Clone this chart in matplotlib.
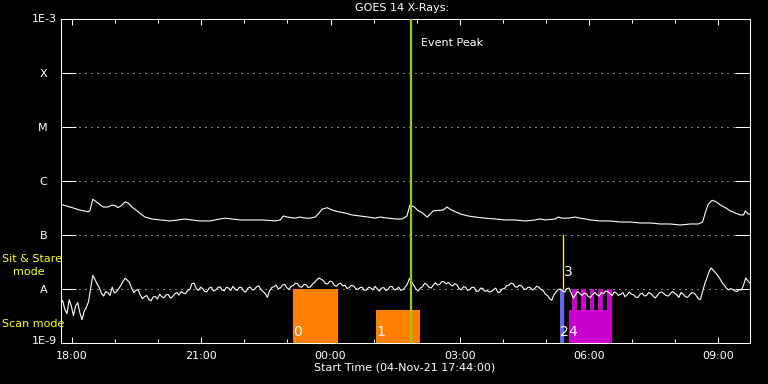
import numpy as np
import matplotlib.pyplot as plt
import matplotlib.dates as mdates
from matplotlib.ticker import NullLocator
from datetime import datetime

start = datetime(2021, 11, 4, 17, 44)

# long channel, hours after start / flux in 1e-7 W m^-2
hi_hours = [0.0, 0.22, 0.45, 0.64, 0.68, 0.75, 0.87, 0.99, 1.10, 1.20,
            1.29, 1.33, 1.40, 1.50, 1.57, 1.66, 1.80, 1.96, 2.12, 2.31,
            2.54, 2.73, 2.89, 3.05, 3.24, 3.47, 3.70, 3.82, 3.98, 4.17,
            4.40, 4.68, 4.98, 5.10, 5.17, 5.26, 5.44, 5.56, 5.68, 5.79,
            5.91, 5.98, 6.07, 6.19, 6.30, 6.44, 6.60, 6.77, 6.95, 7.14,
            7.30, 7.42, 7.60, 7.77, 7.93, 8.04, 8.11, 8.21, 8.30, 8.39,
            8.51, 8.65, 8.88, 8.97, 9.04, 9.16, 9.28, 9.46, 9.62, 9.86,
            10.09, 10.32, 10.55, 10.78, 11.02, 11.13, 11.25, 11.48, 11.55, 11.64,
            11.78, 11.95, 12.06, 12.18, 12.29, 12.53, 12.76, 12.99, 13.22, 13.45,
            13.69, 13.92, 14.15, 14.38, 14.62, 14.80, 14.90, 14.96, 15.03, 15.12,
            15.22, 15.31, 15.43, 15.54, 15.66, 15.78, 15.85, 15.89, 15.96, 16.0]
hi_flux = [3.7, 3.3, 2.9, 2.7, 2.8, 4.6, 3.9, 3.3, 3.3, 3.6,
           3.45, 3.2, 3.45, 4.1, 3.9, 3.3, 2.7, 2.15, 1.98, 1.9,
           1.82, 1.9, 1.98, 1.9, 1.82, 1.82, 1.98, 2.05, 1.98, 1.9,
           1.9, 1.9, 1.82, 1.9, 2.25, 2.15, 2.05, 2.15, 2.05, 2.05,
           2.15, 2.45, 3.0, 3.2, 2.9, 2.7, 2.55, 2.35, 2.25, 2.15,
           2.05, 2.15, 2.05, 1.98, 1.98, 2.25, 3.6, 3.3, 2.8, 2.6,
           2.15, 2.8, 2.9, 3.3, 3.0, 2.7, 2.45, 2.25, 2.15, 2.05,
           1.98, 1.9, 1.9, 1.82, 1.9, 1.98, 1.9, 1.98, 2.15, 2.05,
           2.05, 2.15, 2.05, 1.98, 1.9, 1.82, 1.82, 1.74, 1.74, 1.67,
           1.67, 1.6, 1.6, 1.53, 1.6, 1.6, 1.74, 2.55, 3.7, 4.4,
           4.1, 3.6, 3.2, 2.8, 2.55, 2.35, 2.35, 2.8, 2.45, 2.45]

# short channel, one sample every 3 min / flux in 1e-9 W m^-2 (one row per hour)
lo_flux = [5.4, 6.1, 4.2, 3.5, 6.3, 4.9, 3.2, 4.8, 5.6, 3.6, 2.7, 3.9, 4.6, 5.8, 10.5, 17.8, 15.0, 12.4, 10.6, 8.4,
           7.4, 8.9, 8.6, 7.6, 10.8, 8.4, 9.0, 10.2, 11.6, 13.8, 15.8, 14.6, 13.2, 10.4, 8.6, 9.4, 9.8, 7.8, 6.6, 7.2,
           7.6, 6.4, 6.0, 7.1, 7.3, 6.5, 8.0, 7.2, 6.9, 7.8, 7.9, 6.8, 7.2, 8.1, 8.6, 7.7, 9.0, 8.4, 8.2, 9.4,
           9.8, 12.6, 12.8, 10.2, 9.4, 10.8, 10.2, 8.9, 9.0, 10.4, 10.8, 9.2, 9.6, 10.6, 11.0, 9.6, 9.2, 10.8, 10.4, 9.4,
           11.2, 10.0, 9.4, 10.8, 10.6, 9.2, 8.8, 10.4, 10.9, 9.6, 9.8, 11.0, 11.4, 9.8, 9.0, 8.2, 7.0, 9.2, 10.6, 11.0,
           11.8, 10.2, 10.4, 11.8, 12.2, 10.6, 9.8, 11.2, 11.6, 12.8, 12.6, 11.0, 10.8, 12.2, 12.0, 10.6, 11.0, 12.4, 13.4, 14.8,
           16.0, 15.2, 14.2, 12.6, 12.4, 14.0, 13.6, 11.8, 11.2, 12.4, 12.8, 11.4, 11.8, 10.2, 10.6, 11.6, 11.4, 10.2, 9.8, 10.6,
           10.8, 9.4, 9.6, 10.8, 10.4, 9.6, 11.2, 10.0, 9.2, 10.4, 10.6, 9.4, 9.8, 11.2, 11.0, 9.6, 10.0, 10.8, 9.4, 9.8,
           10.8, 12.4, 15.8, 13.6, 11.6, 10.0, 9.2, 10.4, 11.0, 12.8, 12.2, 10.8, 10.4, 11.8, 13.0, 11.8, 12.2, 13.8, 13.6, 12.4,
           13.2, 12.0, 11.4, 12.6, 12.0, 10.2, 9.6, 11.0, 10.8, 9.4, 9.8, 10.8, 10.6, 9.0, 9.2, 10.4, 10.2, 9.0, 9.4, 8.8,
           9.0, 9.8, 10.4, 8.6, 8.8, 10.0, 10.2, 11.4, 11.8, 12.8, 12.6, 11.0, 10.8, 11.8, 11.4, 10.0, 9.8, 10.8, 10.6, 9.6,
           10.2, 11.2, 10.8, 9.8, 9.4, 8.0, 7.6, 6.6, 6.2, 7.8, 8.8, 9.8, 10.0, 9.2, 8.8, 10.2, 10.4, 8.4, 6.8, 7.8,
           9.0, 8.2, 7.6, 8.4, 8.2, 7.2, 7.0, 8.0, 8.6, 7.8, 7.4, 8.6, 8.2, 9.2, 9.0, 8.2, 7.6, 8.8, 8.4, 7.6,
           8.0, 8.6, 7.2, 7.8, 8.8, 8.0, 7.8, 7.0, 7.0, 8.0, 8.4, 7.4, 7.6, 8.6, 8.2, 7.4, 6.8, 7.6, 8.6, 8.8,
           8.2, 7.6, 7.4, 8.2, 9.0, 8.4, 7.8, 7.0, 8.6, 8.0, 7.2, 7.0, 7.8, 8.6, 8.4, 7.6, 6.6, 6.4, 9.0, 12.5,
           16.0, 21.0, 24.5, 22.0, 20.0, 17.8, 15.6, 13.2, 11.8, 10.4, 9.6, 10.2, 9.8, 9.2, 9.0, 9.8, 9.6, 11.8, 16.0, 14.2,
           12.9]
lo_hours = np.arange(len(lo_flux)) * 0.05

# observations: start / end (hours after start), top flux, colour, label
obs_start = [5.39, 7.325, 11.60, 11.79]
obs_end = [6.44, 8.35, 11.69, 12.80]
obs_top = [1e-8, 4.1e-9, 1e-8, 4.1e-9]
obs_color = ['#FF8000', '#FF8000', '#6464F0', '#CC00CC']
obs_label = ['0', '1', '2', '4']

# raster steps on top of the last observation
step_start = [11.87, 12.08, 12.28, 12.47, 12.68]
step_end = [11.985, 12.19, 12.39, 12.59, 12.80]
step_top = 1e-8

peak_hour = 8.14
mark_hour = 11.67
mark_top = 1e-7

levels = [1e-8, 1e-7, 1e-6, 1e-5, 1e-4]
level_names = ['A', 'B', 'C', 'M', 'X']

W, H = 768, 384
t0 = mdates.date2num(start)


def tnum(h):
    return t0 + np.asarray(h) / 24.0


def put(x, y, s, **kw):
    fig.text(x / W, 1 - y / H, s, **kw)


fig = plt.figure(figsize=(7.68, 3.84), dpi=100, facecolor='black')
ax = fig.add_axes([60.5 / W, 1 - 343 / H, (750 - 60.5) / W, (343 - 19) / H])
ax.set_facecolor('black')
ax.set_yscale('log')
ax.set_ylim(1e-9, 1e-3)
ax.set_xlim(tnum(0), tnum(16))

for lv in levels:
    ax.axhline(lv, color='white', lw=0.72, linestyle=(0, (1, 5)), zorder=1)

# observation blocks
for s, e, top, c in zip(obs_start, obs_end, obs_top, obs_color):
    ax.bar(tnum(s), top - 1e-9, width=(e - s) / 24, bottom=1e-9,
           align='edge', color=c, lw=0, zorder=2)
for s, e in zip(step_start, step_end):
    ax.bar(tnum(s), step_top - 1e-9, width=(e - s) / 24, bottom=1e-9,
           align='edge', color=obs_color[3], lw=0, zorder=2)

ax.plot(tnum([mark_hour, mark_hour]), [1e-9, mark_top], color='#FFFF00', lw=0.9, zorder=1.5)
ax.axvline(tnum(peak_hour), color='#99CC00', lw=1.6, zorder=4)

ax.plot(tnum(hi_hours), np.array(hi_flux) * 1e-7, color='white', lw=0.8, zorder=3)
ax.plot(tnum(lo_hours), np.array(lo_flux) * 1e-9, color='white', lw=0.8, zorder=3)

for s, lab in zip(obs_start, obs_label):
    ax.annotate(lab, xy=(tnum(s), 1e-9), xytext=(0, 4), textcoords='offset pixels',
                color='white', fontsize=10, ha='left', va='bottom', zorder=5)
ax.annotate('3', xy=(tnum(mark_hour), mark_top), xytext=(1, -37), textcoords='offset pixels',
            color='white', fontsize=10, ha='left', va='center', zorder=5)
ax.annotate('Event Peak', xy=(tnum(peak_hour), 1e-3), xytext=(10, -24), textcoords='offset pixels',
            color='white', fontsize=8, ha='left', va='center')

# axes styling
for sp in ax.spines.values():
    sp.set_color('white')
    sp.set_linewidth(0.75)

ax.xaxis.set_major_locator(mdates.HourLocator(byhour=range(0, 24, 3)))
ax.xaxis.set_minor_locator(mdates.HourLocator())
ax.xaxis.set_major_formatter(mdates.DateFormatter('%H:%M'))
ax.tick_params(axis='x', which='major', direction='in', top=True, length=4.3, width=0.75,
               colors='white', labelsize=8, pad=6)
ax.tick_params(axis='x', which='minor', direction='in', top=True, length=2.9, width=0.75,
               colors='white')

ax.yaxis.set_minor_locator(NullLocator())
ax.set_yticks(levels)
ax.set_yticklabels(level_names)
ax.tick_params(axis='y', which='major', direction='in', right=True, length=10.8, width=0.75,
               colors='white', labelsize=8, pad=9.5)

put(57, 19, '1E-3', color='white', fontsize=8, ha='right', va='center')
put(57, 341, '1E-9', color='white', fontsize=8, ha='right', va='center')
put(2, 259, 'Sit & Stare', color='#FFFF00', fontsize=8, ha='left', va='center')
put(13, 272, 'mode', color='#FFFF00', fontsize=8, ha='left', va='center')
put(2, 324, 'Scan mode', color='#FFFF00', fontsize=8, ha='left', va='center')
put(402, 8, 'GOES 14 X-Rays:', color='white', fontsize=8, ha='center', va='center')
put(405, 367, 'Start Time (04-Nov-21 17:44:00)', color='white', fontsize=8, ha='center', va='center')

fig.savefig('out.png', dpi=100, facecolor='black')
